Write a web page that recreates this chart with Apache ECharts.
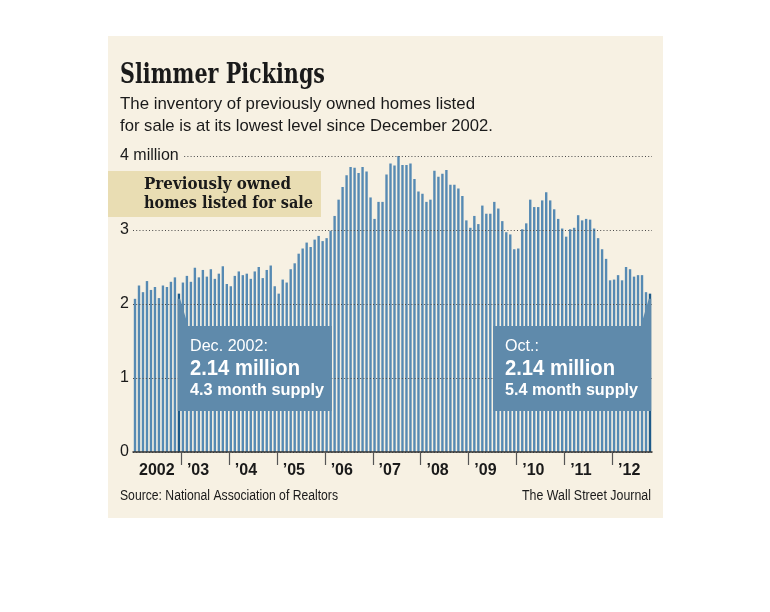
<!DOCTYPE html>
<html>
<head>
<meta charset="utf-8">
<script src="https://cdn.jsdelivr.net/npm/echarts@6/dist/echarts.min.js"></script>
<style>
html,body{margin:0;padding:0;background:#ffffff;}
#c{width:770px;height:612px;}
</style>
</head>
<body>
<div id="c"></div>
<script>
// ---------------- DATA ----------------
const years = ['2002','2003','2004','2005','2006','2007','2008','2009','2010','2011','2012'];
const yearLabels = ['2002','\u201903','\u201904','\u201905','\u201906','\u201907','\u201908','\u201909','\u201910','\u201911','\u201912'];
const v2002 = [2.07, 2.25, 2.16, 2.31, 2.19, 2.23, 2.08, 2.25, 2.23, 2.30, 2.36, 2.14];
const v2003 = [2.29, 2.38, 2.30, 2.49, 2.36, 2.46, 2.37, 2.47, 2.34, 2.41, 2.51, 2.27];
const v2004 = [2.24, 2.38, 2.44, 2.39, 2.41, 2.34, 2.44, 2.50, 2.35, 2.46, 2.52, 2.24];
const v2005 = [2.14, 2.33, 2.29, 2.47, 2.55, 2.68, 2.75, 2.83, 2.77, 2.87, 2.92, 2.85];
const v2006 = [2.89, 2.99, 3.19, 3.41, 3.58, 3.74, 3.85, 3.84, 3.77, 3.85, 3.79, 3.44];
const v2007 = [3.15, 3.38, 3.38, 3.75, 3.90, 3.87, 4.03, 3.88, 3.88, 3.90, 3.69, 3.52];
const v2008 = [3.49, 3.38, 3.41, 3.80, 3.72, 3.76, 3.81, 3.61, 3.61, 3.56, 3.46, 3.13];
const v2009 = [3.03, 3.19, 3.08, 3.33, 3.22, 3.22, 3.38, 3.29, 3.12, 2.97, 2.94, 2.74];
const v2010 = [2.75, 3.01, 3.09, 3.41, 3.31, 3.31, 3.40, 3.51, 3.40, 3.28, 3.15, 3.02];
const v2011 = [2.91, 3.01, 3.03, 3.20, 3.13, 3.15, 3.14, 3.02, 2.89, 2.74, 2.61, 2.32];
const v2012 = [2.33, 2.39, 2.32, 2.50, 2.47, 2.37, 2.39, 2.39, 2.16, 2.14];
const monthNames = ['Jan','Feb','Mar','Apr','May','Jun','Jul','Aug','Sep','Oct','Nov','Dec'];
const yTickValues = [0, 1, 2, 3, 4];
const yTickLabels = ['0', '1', '2', '3', '4 million'];
const highlightIndex = [11, 129];
const noteLeft = ['Dec. 2002:', '2.14 million', '4.3 month supply'];
const noteRight = ['Oct.:', '2.14 million', '5.4 month supply'];
const legendLines = ['Previously owned', 'homes listed for sale'];
const titleText = 'Slimmer Pickings';
const subtitleLines = ['The inventory of previously owned homes listed', 'for sale is at its lowest level since December 2002.'];
const sourceText = 'Source: National Association of Realtors';
const creditText = 'The Wall Street Journal';

// ---------------- BUILD ----------------
const yearValues = [v2002, v2003, v2004, v2005, v2006, v2007, v2008, v2009, v2010, v2011, v2012];
const categories = [];
const values = [];
yearValues.forEach((arr, yi) => {
  arr.forEach((v, mi) => { categories.push(monthNames[mi] + ' ' + years[yi]); values.push(v); });
});

const BG = '#f7f1e3';
const BAR = '#568ab3';
const BAR_DARK = '#1d5a89';
const BOX = '#5f8aab';
const INK = '#1a1a1a';
const SANS = '"Liberation Sans", Arial, sans-serif';
const SERIF = '"DejaVu Serif", serif';
const BAR_FRAC = 0.6;

const cv = document.createElement('canvas');
const cx2d = cv.getContext('2d');
function fitScale(text, font, width) {
  cx2d.font = font;
  return width / cx2d.measureText(text).width;
}
function fitText(text, font, x, y, width, opts) {
  opts = opts || {};
  const align = opts.align || 'left';
  return {
    type: 'text', x: x, y: y, z: opts.z || 20,
    scaleX: fitScale(text, font, width),
    style: { text: text, font: font, fill: opts.fill || INK, align: align, verticalAlign: 'middle' }
  };
}

const chart = echarts.init(document.getElementById('c'), null, { renderer: 'canvas' });

const option = {
  animation: false,
  backgroundColor: '#ffffff',
  grid: { left: 133, right: 118, top: 156, bottom: 160, containLabel: false },
  xAxis: {
    type: 'category',
    data: categories,
    z: 3,
    boundaryGap: true,
    axisLine: { show: true, lineStyle: { color: '#333', width: 1.5 } },
    axisTick: { show: false },
    splitLine: { show: false },
    axisLabel: {
      interval: function (index) { return index % 12 === 0; },
      formatter: function (value, index) { return yearLabels[Math.floor(index / 12)]; },
      align: 'left',
      padding: [0, 0, 0, 4],
      margin: 11,
      fontSize: 16,
      fontWeight: 'bold',
      fontFamily: SANS,
      color: INK
    }
  },
  yAxis: {
    type: 'value',
    min: 0, max: 4, interval: 1,
    z: 3,
    axisLine: { show: false },
    axisTick: { show: false },
    splitLine: { show: true, lineStyle: { color: '#4a4a4a', width: 1, type: [1, 2.2] } },
    axisLabel: {
      align: 'left',
      margin: 13,
      fontSize: 16,
      fontFamily: SANS,
      color: INK,
      formatter: function (v) {
        const i = yTickValues.indexOf(v);
        const t = i >= 0 ? yTickLabels[i] : '';
        return v === 4 ? '{m|' + t + '}' : t;
      },
      rich: { m: { backgroundColor: BG, padding: [3, 5, 3, 0], fontSize: 16, fontFamily: SANS, color: INK } }
    }
  },
  series: [{
    type: 'bar',
    z: 2,
    barWidth: (BAR_FRAC * 100) + '%',
    data: values.map((v, i) => highlightIndex.indexOf(i) >= 0 ? { value: v, itemStyle: { color: BAR_DARK } } : v),
    itemStyle: { color: BAR },
    emphasis: { disabled: true }
  }]
};
chart.setOption(option);

// ---------- decorations computed from the axes ----------
const px = (i) => chart.convertToPixel({ xAxisIndex: 0 }, categories[i]);
const py = (v) => chart.convertToPixel({ yAxisIndex: 0 }, v);
const band = px(1) - px(0);
const barW = band * BAR_FRAC;
const y0 = py(0);

const g = [];
// panel
g.push({ type: 'rect', z: -10, shape: { x: 108, y: 36, width: 555, height: 482 }, style: { fill: BG } });
// legend box
g.push({ type: 'rect', z: 10, shape: { x: 108, y: 171, width: 213, height: 46 }, style: { fill: '#e9ddb3' } });
g.push(fitText(legendLines[0], 'bold 17px ' + SERIF, 144, 185, 147));
g.push(fitText(legendLines[1], 'bold 17px ' + SERIF, 144, 203.5, 169));
// title & subtitle
g.push(fitText(titleText, 'bold 27px ' + SERIF, 120, 76, 205));
g.push(fitText(subtitleLines[0], '17px ' + SANS, 120, 104.5, 355));
g.push(fitText(subtitleLines[1], '17px ' + SANS, 120, 126.5, 373));
// footer
g.push(fitText(sourceText, '14px ' + SANS, 120, 496, 218));
g.push(fitText(creditText, '14px ' + SANS, 651, 496, 129, { align: 'right' }));

// year ticks at category boundaries
for (let i = 12; i < categories.length; i += 12) {
  const x = Math.round((px(i - 1) + px(i)) / 2) + 0.5;
  g.push({ type: 'line', z: 5, shape: { x1: x, y1: y0, x2: x, y2: y0 + 13 }, style: { stroke: '#555', lineWidth: 1.2 } });
}

// annotation boxes
const boxTop = 326, boxBot = 411;
(function () {
  const b = highlightIndex[0];
  const c = px(b), t = py(values[b]);
  const l = c - barW / 2, r = c + barW / 2;
  const right = px(49) + barW / 2;
  g.push({ type: 'polygon', z: 12, shape: { points: [[l, t + 5], [r, t + 5], [r + 8, boxTop], [right, boxTop], [right, boxBot], [l, boxBot]] }, style: { fill: BOX } });
  g.push(fitText(noteLeft[0], '17px ' + SANS, 190, 346, 78, { fill: '#ffffff' }));
  g.push(fitText(noteLeft[1], 'bold 22px ' + SANS, 190, 369, 110, { fill: '#ffffff' }));
  g.push(fitText(noteLeft[2], 'bold 17px ' + SANS, 190, 390, 134, { fill: '#ffffff' }));
})();
(function () {
  const b = highlightIndex[1];
  const c = px(b), t = py(values[b]);
  const l = c - barW / 2, r = c + barW / 2;
  const left = px(90) - barW / 2;
  g.push({ type: 'polygon', z: 12, shape: { points: [[left, boxTop], [l - 8, boxTop], [l, t + 5], [r, t + 5], [r, boxBot], [left, boxBot]] }, style: { fill: BOX } });
  g.push(fitText(noteRight[0], '17px ' + SANS, 505, 346, 34, { fill: '#ffffff' }));
  g.push(fitText(noteRight[1], 'bold 22px ' + SANS, 505, 369, 110, { fill: '#ffffff' }));
  g.push(fitText(noteRight[2], 'bold 17px ' + SANS, 505, 390, 133, { fill: '#ffffff' }));
})();

chart.setOption({ graphic: { elements: g } });
</script>
</body>
</html>
